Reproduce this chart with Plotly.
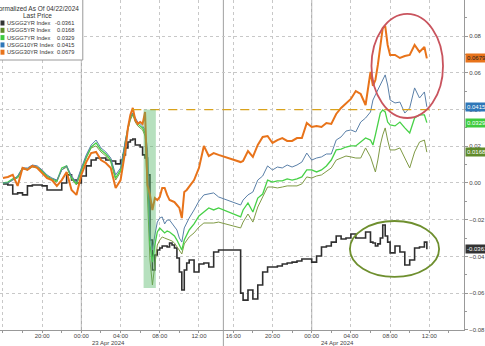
import pandas as pd
import plotly.graph_objects as go

# ---------------- data ----------------
# hours after 2024-04-22 16:00 (shared sampling grid)
hours = [0, 0.5, 1, 1.5, 2, 2.5, 3, 3.5, 4, 4.5, 5, 5.5, 6, 6.5, 7, 7.5, 8, 8.5, 9, 9.5, 10, 10.5, 11, 11.5, 12,
         12.25, 12.5, 12.75, 13, 13.25, 13.5, 13.75, 14, 14.25, 14.5, 14.75, 15, 15.25, 15.5, 15.75, 16, 16.25,
         16.5, 16.75, 17, 17.25, 17.5, 17.75, 18, 18.25, 18.5, 18.75, 19,
         19.5, 20, 20.5, 21, 21.5, 22,
         24.75,
         25, 25.5, 26, 26.5, 27, 27.5, 28, 28.5, 29, 29.5, 30, 30.5, 31, 31.5, 32, 32.5, 33, 33.5, 34, 34.5,
         35, 35.5, 36, 36.5, 37, 37.5, 38,
         38.25, 38.5, 38.75, 39, 39.25, 39.5, 39.75, 40,
         40.5, 41, 41.5, 42, 42.5, 43, 43.5, 43.75]

usgg2 = [-0.0005, -0.0011, -0.0060, -0.0054, -0.0065, -0.0016, -0.0011, -0.0011, -0.0016, -0.0038, -0.0038, -0.0038, 0.0000, 0.0044, 0.0016, 0.0000, 0.0038, 0.0093, 0.0125, 0.0136, 0.0136, 0.0125, 0.0120, 0.0104, 0.0125,
         0.0153, 0.0191, 0.0223, 0.0234, 0.0240, 0.0207, 0.0207, 0.0196, 0.0153, 0.0136, 0.0044, -0.0311, -0.0474, -0.0392, -0.0365, -0.0354, -0.0343, -0.0343, -0.0349, -0.0327, -0.0338, -0.0354, -0.0409, -0.0485, -0.0583, -0.0474, -0.0436, -0.0420,
         -0.0485, -0.0441, -0.0436, -0.0458, -0.0376, -0.0365,
         -0.0600,
         -0.0638, -0.0583, -0.0632, -0.0556, -0.0485, -0.0458, -0.0458, -0.0452, -0.0441, -0.0436, -0.0431, -0.0425, -0.0414, -0.0414, -0.0431, -0.0398, -0.0349, -0.0343, -0.0322, -0.0289, -0.0305, -0.0300, -0.0278, -0.0300, -0.0300, -0.0267, -0.0322,
         -0.0327, -0.0343, -0.0332, -0.0300, -0.0229, -0.0289, -0.0322, -0.0381,
         -0.0343, -0.0376, -0.0447, -0.0420, -0.0354, -0.0349, -0.0322, -0.0361]

usgg5 = [0.0000, 0.0000, 0.0016, 0.0027, 0.0076, 0.0071, 0.0087, 0.0082, 0.0060, 0.0033, 0.0016, 0.0005, 0.0071, 0.0087, 0.0022, -0.0011, 0.0065, 0.0136, 0.0191, 0.0202, 0.0169, 0.0147, 0.0114, 0.0016, 0.0060,
         0.0147, 0.0218, 0.0289, 0.0343, 0.0371, 0.0332, 0.0311, 0.0300, 0.0289, 0.0256, -0.0038, -0.0420, -0.0556, -0.0431, -0.0338, -0.0311, -0.0294, -0.0300, -0.0305, -0.0311, -0.0316, -0.0327, -0.0349, -0.0365, -0.0387, -0.0332, -0.0311, -0.0294,
         -0.0272, -0.0240, -0.0218, -0.0218, -0.0218, -0.0213,
         -0.0245,
         -0.0213, -0.0169, -0.0213, -0.0131, -0.0076, -0.0022, -0.0022, -0.0027, -0.0022, -0.0016, -0.0016, -0.0016, -0.0005, 0.0033, 0.0027, 0.0038, 0.0044, 0.0065, 0.0082, 0.0125, 0.0136, 0.0147, 0.0142, 0.0136, 0.0136, 0.0191, 0.0142,
         0.0098, 0.0060, 0.0125, 0.0207, 0.0262, 0.0300, 0.0234, 0.0180,
         0.0180, 0.0191, 0.0136, 0.0082, 0.0169, 0.0223, 0.0234, 0.0168]

usgg7 = [0.0000, 0.0005, 0.0022, 0.0033, 0.0082, 0.0076, 0.0093, 0.0087, 0.0065, 0.0038, 0.0022, 0.0011, 0.0082, 0.0093, 0.0027, -0.0005, 0.0071, 0.0142, 0.0196, 0.0218, 0.0180, 0.0158, 0.0125, 0.0027, 0.0071,
         0.0163, 0.0229, 0.0300, 0.0354, 0.0381, 0.0343, 0.0322, 0.0311, 0.0300, 0.0272, 0.0125, -0.0338, -0.0431, -0.0338, -0.0267, -0.0245, -0.0256, -0.0272, -0.0262, -0.0267, -0.0278, -0.0289, -0.0311, -0.0343, -0.0365, -0.0311, -0.0283, -0.0256,
         -0.0223, -0.0180, -0.0158, -0.0136, -0.0147, -0.0136,
         -0.0185,
         -0.0147, -0.0109, -0.0158, -0.0082, -0.0060, 0.0016, 0.0005, 0.0011, 0.0011, 0.0022, 0.0016, 0.0022, 0.0033, 0.0071, 0.0071, 0.0060, 0.0071, 0.0093, 0.0125, 0.0180, 0.0185, 0.0196, 0.0202, 0.0202, 0.0223, 0.0245, 0.0234,
         0.0207, 0.0262, 0.0316, 0.0381, 0.0398, 0.0387, 0.0332, 0.0316,
         0.0311, 0.0332, 0.0300, 0.0272, 0.0354, 0.0371, 0.0371, 0.0329]

usgg10 = [0.0000, 0.0000, 0.0016, 0.0038, 0.0082, 0.0082, 0.0098, 0.0093, 0.0071, 0.0044, 0.0027, 0.0016, 0.0071, 0.0093, 0.0038, 0.0005, 0.0082, 0.0153, 0.0207, 0.0234, 0.0191, 0.0169, 0.0136, 0.0044, 0.0082,
          0.0169, 0.0234, 0.0300, 0.0360, 0.0381, 0.0354, 0.0332, 0.0322, 0.0311, 0.0289, 0.0180, -0.0283, -0.0365, -0.0283, -0.0213, -0.0191, -0.0185, -0.0223, -0.0202, -0.0202, -0.0218, -0.0234, -0.0256, -0.0300, -0.0322, -0.0245, -0.0213, -0.0191,
          -0.0147, -0.0098, -0.0065, -0.0060, -0.0054, -0.0076,
          -0.0120,
          -0.0093, -0.0065, -0.0049, 0.0016, 0.0038, 0.0093, 0.0071, 0.0087, 0.0082, 0.0098, 0.0087, 0.0098, 0.0114, 0.0163, 0.0125, 0.0136, 0.0142, 0.0158, 0.0158, 0.0234, 0.0251, 0.0283, 0.0289, 0.0278, 0.0332, 0.0354, 0.0387,
          0.0452, 0.0480, 0.0507, 0.0534, 0.0561, 0.0589, 0.0534, 0.0452,
          0.0436, 0.0441, 0.0381, 0.0409, 0.0518, 0.0463, 0.0496, 0.0415]

usgg30 = [0.0027, 0.0033, 0.0044, -0.0016, 0.0082, 0.0071, 0.0093, 0.0082, 0.0054, 0.0027, 0.0016, -0.0016, 0.0016, 0.0060, -0.0038, -0.0065, 0.0044, 0.0114, 0.0163, 0.0169, 0.0125, 0.0109, 0.0082, -0.0027, 0.0016,
          0.0098, 0.0180, 0.0300, 0.0371, 0.0409, 0.0343, 0.0322, 0.0332, 0.0322, 0.0387, -0.0011, -0.0065, -0.0147, -0.0082, -0.0093, -0.0076, -0.0027, -0.0027, -0.0065, -0.0093, -0.0098, -0.0104, -0.0120, -0.0136, -0.0191, -0.0049, -0.0038, -0.0022,
          0.0016, 0.0082, 0.0202, 0.0147, 0.0163, 0.0153,
          0.0114,
          0.0120, 0.0174, 0.0142, 0.0207, 0.0251, 0.0256, 0.0218, 0.0234, 0.0245, 0.0229, 0.0229, 0.0245, 0.0245, 0.0327, 0.0305, 0.0311, 0.0305, 0.0327, 0.0322, 0.0376, 0.0409, 0.0431, 0.0458, 0.0501, 0.0485, 0.0425, 0.0605,
          0.0529, 0.0561, 0.0643, 0.0752, 0.0845, 0.0856, 0.0752, 0.0698,
          0.0698, 0.0681, 0.0692, 0.0698, 0.0752, 0.0714, 0.0741, 0.0679]

series_names = ["USGG2YR Index", "USGG5YR Index", "USGG7YR Index", "USGG10YR Index", "USGG30YR Index"]
last_prices = ["-0.0361", "0.0168", "0.0329", "0.0415", "0.0679"]
last_values = [-0.0361, 0.0168, 0.0329, 0.0415, 0.0679]
series_colors = ["#2f2f2f", "#7f9a45", "#47d147", "#5a7fa8", "#e8731a"]
legend_colors = ["#333333", "#5f8a2a", "#3ecb3e", "#2f77b8", "#e8731a"]
tag_text_colors = ["white", "white", "white", "white", "#222222"]
series_widths = [1.6, 1.0, 1.3, 1.0, 2.0]

# time-axis ticks (hours after 2024-04-22 16:00)
tick_hours = [0, 4, 8, 12, 16, 20, 24, 28, 32, 36, 40, 44]
tick_labels = ["16:00", "20:00", "00:00", "04:00", "08:00", "12:00",
               "16:00", "20:00", "00:00", "04:00", "08:00", "12:00"]
minor_tick_hours = [2, 6, 10, 14, 18, 26, 30, 34, 38, 42, 46]

# reference level (peak before the selloff) and the shaded window
ref_hours = [13.2, 45.0]
ref_level = [0.04, 0.04]
band_hours = [14.35, 15.6]
band_values = [0.04, -0.0572]
red_ellipse_hours = [38.1, 45.4]
red_ellipse_values = [0.0354, 0.0921]
green_ellipse_hours = [35.9, 45.0]
green_ellipse_values = [-0.0512, -0.0207]
date_labels = ["23 Apr 2024", "24 Apr 2024"]
date_label_hours = [10.8, 34.6]
legend_title = "Normalized As Of 04/22/2024"
legend_subtitle = "Last Price"

# ---------------- helpers ----------------
t0 = pd.Timestamp("2024-04-22 16:00")


def at(h):
    return t0 + pd.to_timedelta(h, unit="h")


times = [at(h) for h in hours]
PW, PH = 468, 330  # plot area in px


def px(x):
    return x / PW


def py(y):
    return 1 - y / PH


FONT = "Liberation Sans, Arial, sans-serif"

fig = go.Figure()
all_series = [usgg2, usgg5, usgg7, usgg10, usgg30]
for name, vals, col, w in zip(series_names, all_series, series_colors, series_widths):
    fig.add_trace(go.Scatter(x=times, y=vals, mode="lines", name=name,
                             line=dict(color=col, width=w,
                                       shape="hv" if name == "USGG2YR Index" else "linear"),
                             hoverinfo="skip"))

fig.add_trace(go.Scatter(x=[at(h) for h in ref_hours], y=ref_level, mode="lines",
                         line=dict(color="#d9a21b", width=1.3, dash="dash"), hoverinfo="skip"))

shapes = []
# midnight separators and session break
for h in [8, 32]:
    shapes.append(dict(type="line", xref="x", yref="paper", x0=at(h), x1=at(h), y0=0, y1=1,
                       line=dict(color="#a0a0a0", width=1), layer="below"))
shapes.append(dict(type="line", xref="x", yref="paper", x0=at(22.49), x1=at(22.49), y0=-0.05, y1=1,
                   line=dict(color="#a0a0a0", width=1), layer="below"))
# shaded selloff window
shapes.append(dict(type="rect", xref="x", yref="y", x0=at(band_hours[0]), x1=at(band_hours[1]),
                   y0=band_values[1], y1=band_values[0], fillcolor="rgba(80,180,100,0.42)",
                   line=dict(width=0), layer="above"))
# ellipses
shapes.append(dict(type="circle", xref="x", yref="y", x0=at(red_ellipse_hours[0]), x1=at(red_ellipse_hours[1]),
                   y0=red_ellipse_values[0], y1=red_ellipse_values[1],
                   line=dict(color="#c9545e", width=1.8), layer="above"))
shapes.append(dict(type="circle", xref="x", yref="y", x0=at(green_ellipse_hours[0]), x1=at(green_ellipse_hours[1]),
                   y0=green_ellipse_values[0], y1=green_ellipse_values[1],
                   line=dict(color="#6e8f2e", width=1.8), layer="above"))
# legend box
shapes.append(dict(type="rect", xref="paper", yref="paper", x0=px(-2), x1=px(83.5), y0=py(60), y1=py(-2),
                   fillcolor="white", line=dict(color="#9a9a9a", width=1), layer="above"))

annotations = []
annotations.append(dict(xref="paper", yref="paper", x=px(81.5), y=py(9), xanchor="right", yanchor="middle",
                        text=legend_title, showarrow=False, font=dict(family=FONT, size=6.5, color="#333")))
annotations.append(dict(xref="paper", yref="paper", x=px(38), y=py(16), xanchor="center", yanchor="middle",
                        text=legend_subtitle, showarrow=False, font=dict(family=FONT, size=6.5, color="#333")))
row_y = [23, 30.3, 37.6, 44.9, 52.2]
for name, lp, col, ry in zip(series_names, last_prices, legend_colors, row_y):
    shapes.append(dict(type="rect", xref="paper", yref="paper", x0=px(0.5), x1=px(4.5), y0=py(ry + 2.5),
                       y1=py(ry - 2.5), fillcolor=col, line=dict(width=0), layer="above"))
    annotations.append(dict(xref="paper", yref="paper", x=px(5), y=py(ry), xanchor="left", yanchor="middle",
                            text=name, showarrow=False, font=dict(family=FONT, size=5.7, color="#333")))
    annotations.append(dict(xref="paper", yref="paper", x=px(77), y=py(ry), xanchor="right", yanchor="middle",
                            text=lp, showarrow=False, font=dict(family=FONT, size=5.7, color="#333")))

# last-price tags on the right axis
for lp, v, col, tc in zip(last_prices, last_values, legend_colors, tag_text_colors):
    annotations.append(dict(xref="paper", yref="y", x=1, y=v, xanchor="left", yanchor="middle", xshift=1,
                            text=lp, showarrow=False, bgcolor=col, borderpad=1,
                            font=dict(family=FONT, size=6, color=tc)))

# date labels under the time axis
for lab, h in zip(date_labels, date_label_hours):
    annotations.append(dict(xref="x", yref="paper", x=at(h), y=0, yanchor="top", yshift=-8,
                            text=lab, showarrow=False, font=dict(family=FONT, size=6, color="#444")))

fig.update_layout(
    width=485, height=346,
    margin=dict(l=0, r=17, t=0, b=16),
    paper_bgcolor="white", plot_bgcolor="white",
    showlegend=False,
    shapes=shapes, annotations=annotations,
    font=dict(family=FONT, size=6, color="#444"),
)
fig.update_xaxes(
    type="date",
    range=[at(-0.3), at(47.54)],
    rangebreaks=[dict(values=[at(22.5).strftime("%Y-%m-%d %H:%M:%S")], dvalue=30 * 60 * 1000)],
    tickmode="array", tickvals=[at(h) for h in tick_hours], ticktext=tick_labels,
    ticks="outside", ticklen=2, tickcolor="#999",
    ticklabelstandoff=-2,
    minor=dict(tickmode="array", tickvals=[at(h) for h in minor_tick_hours], ticks="outside", ticklen=2,
               tickcolor="#999", showgrid=False),
    showgrid=True, gridcolor="#c8c8c8", griddash="dot", gridwidth=1,
    showline=True, linecolor="#999", linewidth=1,
    tickfont=dict(family=FONT, size=6, color="#444"),
    zeroline=False,
)
fig.update_yaxes(
    side="right", range=[-0.0801, 0.0997],
    dtick=0.02, tick0=0, tickformat=".2f",
    ticks="outside", ticklen=3, tickcolor="#999",
    minor=dict(dtick=0.01, ticks="outside", ticklen=2, tickcolor="#999", showgrid=False),
    showgrid=True, gridcolor="#c8c8c8", griddash="dot", gridwidth=1,
    showline=True, linecolor="#999", linewidth=1,
    zeroline=False,
    tickfont=dict(family=FONT, size=6, color="#444"),
)

fig.write_html("out.html")
